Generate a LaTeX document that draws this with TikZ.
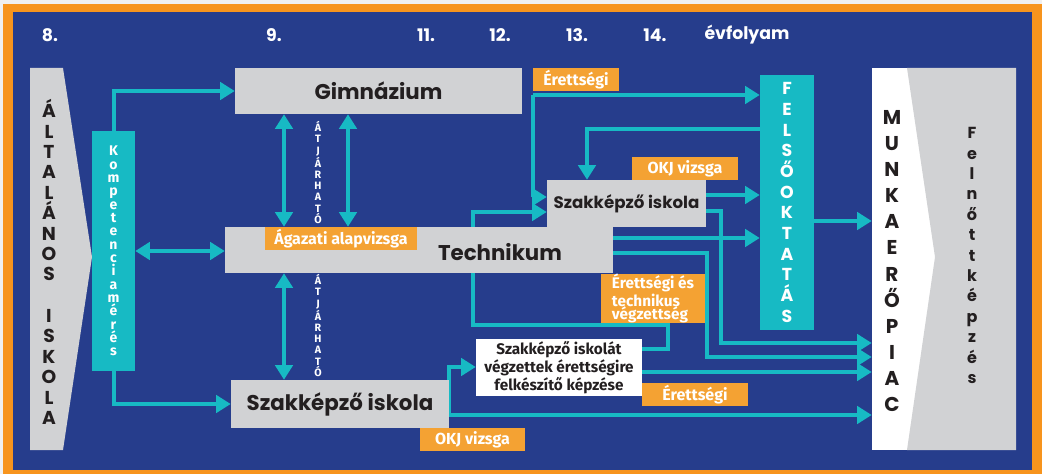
\documentclass[tikz,border=0pt]{standalone}
\usepackage{fontspec}
\setmainfont{Fira Sans}
\newfontfamily\popfont{Poppins}
\usetikzlibrary{arrows.meta}

\definecolor{bgblue}{RGB}{38,61,140}
\definecolor{frameorange}{RGB}{247,148,29}
\definecolor{tagorange}{RGB}{244,162,51}
\definecolor{linkteal}{RGB}{23,186,196}
\definecolor{boxgray}{RGB}{209,210,212}
\definecolor{inkdark}{RGB}{35,31,32}

\pgfdeclarelayer{back}
\pgfdeclarelayer{links}
\pgfsetlayers{back,links,main}

\tikzset{
  >={Triangle[length=11pt,width=13pt]},
  link/.style={draw=linkteal, line width=3pt},
  year/.style={text=white, font=\popfont\bfseries\fontsize{13}{15}\selectfont},
  graybox/.style 2 args={fill=boxgray, inner sep=0pt, minimum width=#1*0.75pt, minimum height=#2*0.75pt},
  title/.style={text=inkdark, font=\popfont\bfseries\fontsize{16}{18}\selectfont},
  tealbox/.style 2 args={fill=linkteal, inner sep=0pt, minimum width=#1*0.75pt, minimum height=#2*0.75pt, align=center, text=white},
  tag/.style 2 args={fill=tagorange, inner sep=0pt, minimum width=#1*0.75pt, minimum height=#2*0.75pt, text=white, font=\bfseries\fontsize{12}{13}\selectfont},
  whitebox/.style={fill=white, inner sep=0pt, minimum width=166*0.75pt, minimum height=57*0.75pt, align=center, text=inkdark, font=\bfseries\fontsize{11.5}{11.3}\selectfont},
  darkletters/.style={align=center, text=inkdark, font=\popfont\bfseries\fontsize{14}{15.3}\selectfont},
  tinyletters/.style={align=center, text=white, font=\bfseries\fontsize{8}{8.4}\selectfont},
}

\begin{document}
\begin{tikzpicture}[x=0.75pt,y=-0.75pt]

\begin{pgfonlayer}{back}
\fill[black!6] (0,0) rectangle (1042,474);
\fill[frameorange] (3,4) rectangle (1042,474);
\fill[bgblue] (13,12) rectangle (1032,470);
\end{pgfonlayer}

% years
\node[year] (y8) at (50,35) {8.};
\node[year] (y9) at (274,35) {9.};
\node[year] (y11) at (426,35) {11.};
\node[year] (y12) at (500,35) {12.};
\node[year] (y13) at (577,35) {13.};
\node[year] (y14) at (655,35) {14.};
\node[year] (yev) at (747,35) {évfolyam};

% altalanos iskola
\fill[boxgray] (30,68) -- (63,68) -- (92,257) -- (63,450) -- (30,450) -- cycle;
\node[darkletters] (alt) at (49,262) {Á\\L\\T\\A\\L\\Á\\N\\O\\S\\[16pt]I\\S\\K\\O\\L\\A};

\node[tealbox={43}{240}, font=\bfseries\fontsize{10.5}{10}\selectfont] (komp) at (113.5,251)
  {K\\o\\m\\p\\e\\t\\e\\n\\c\\i\\a\\m\\é\\r\\é\\s};

% schools
\node[graybox={287}{46}, title] (gim) at (378.5,91) {Gimnázium};
\node[graybox={388}{46}] (tech) at (419,250) {};
\node[title] (techname) at (500,252) {Technikum};
\node[graybox={218}{48}, title] (szkl) at (340,404) {Szakképző iskola};
\node[graybox={159}{47}, title, font=\popfont\bfseries\fontsize{12.5}{14}\selectfont] (szku) at (626.5,203.5) {Szakképző iskola};
\node[whitebox] (erett) at (559,367.5) {Szakképző iskolát\\végzettek érettségire\\felkészítő képzése};

\node[tinyletters] (atj1) at (318,172.5) {Á\\T\\J\\Á\\R\\H\\A\\T\\Ó};
\node[tinyletters] (atj2) at (318,325.5) {Á\\T\\J\\Á\\R\\H\\A\\T\\Ó};

% exams
\node[tag={152}{23}] (alap) at (341,238.5) {Ágazati alapvizsga};
\node[tag={86}{23}] (eret1) at (576,79.5) {Érettségi};
\node[tag={106}{23}] (okj1) at (685,168.5) {OKJ vizsga};
\node[tag={104}{49}, align=left, font=\bfseries\fontsize{11.5}{10}\selectfont] (etv) at (653,298.5) {Érettségi és\\technikus\\végzettség};
\node[tag={106}{23}] (eret2) at (695,394.5) {Érettségi};
\node[tag={105}{23}] (okj2) at (472.5,439.5) {OKJ vizsga};

\node[tealbox={54}{255}, font=\popfont\bfseries\fontsize{13}{15.5}\selectfont] (felso) at (787,202.5)
  {F\\E\\L\\S\\Ő\\O\\K\\T\\A\\T\\Á\\S};

% munkaeropiac
\node[fill=white, inner sep=0pt, minimum width=144*0.75pt, minimum height=382*0.75pt] (munka) at (944,259) {};
\fill[boxgray] (907,68) -- (1016,68) -- (1016,450) -- (907,450) -- (935,257) -- cycle;
\node[darkletters, font=\popfont\bfseries\fontsize{15}{19.6}\selectfont] (munkatxt) at (892,261) {M\\U\\N\\K\\A\\E\\R\\Ő\\P\\I\\A\\C};
\node[darkletters, font=\popfont\bfseries\fontsize{12}{15.3}\selectfont] (felnott) at (972,255.5) {F\\e\\l\\n\\ő\\t\\t\\k\\é\\p\\z\\é\\s};

\coordinate (c1) at (284,0);
\coordinate (c2) at (348,0);
\coordinate (gbr) at (533,95);

\begin{pgfonlayer}{links}
\draw[link,->] (komp.north) |- (gim.west);
\draw[link,->] (komp.south) |- (szkl.west);
\draw[link,<->] (komp.east) -- (komp.east -| tech.west);
\draw[link,<->] (gim.south -| c1) -- (tech.north -| c1);
\draw[link,<->] (gim.south -| c2) -- (tech.north -| c2);
\draw[link,<->] (tech.south -| c1) -- (szkl.north -| c1);

\draw[link,->] (gbr) -- (felso.west |- gbr);
\draw[link,->] (gbr) |- (szku.west |- 0,197);
\draw[link,->] (felso.west |- 0,129) -| (szku.north -| 587,0);
\draw[link,->] (szku.east |- 0,195) -- (felso.west |- 0,195);
\draw[link,->] (szku.east |- 0,211) -| (721,343) -- (munka.west |- 0,343);
\draw[link,->] (tech.east |- 0,238) -- (felso.west |- 0,238);
\draw[link,->] (tech.east |- 0,253) -| (707,357) -- (munka.west |- 0,357);
\draw[link,->] (erett.east |- 0,349) -| (668,325) -| (473,212) -- (szku.west |- 0,212);
\draw[link,->] (erett.east |- 0,372) -- (munka.west |- 0,372);
\draw[link,->] (szkl.east |- 0,415) -- (munka.west |- 0,415);
\draw[link,->] (szkl.east |- 0,415) |- (erett.west |- 0,367);
\draw[link,->] (felso.east |- 0,221) -- (munka.west |- 0,221);
\end{pgfonlayer}

\end{tikzpicture}
\end{document}
